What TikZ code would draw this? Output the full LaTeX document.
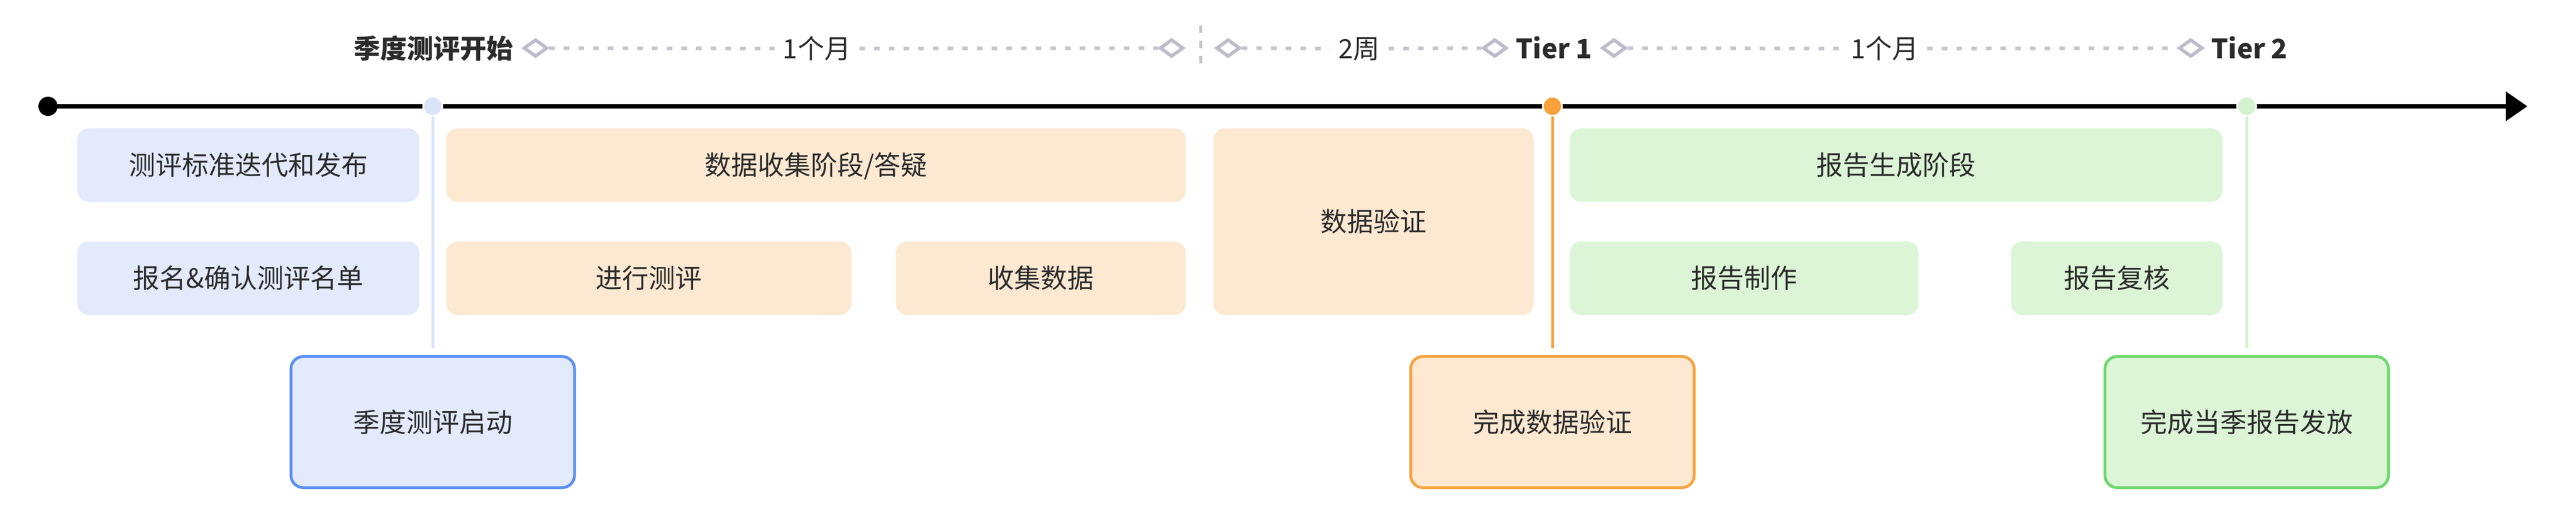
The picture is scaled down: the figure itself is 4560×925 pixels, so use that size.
\documentclass[tikz,border=0pt]{standalone}
\usepackage{fontspec}
\setmainfont{Noto Sans CJK SC}
\usetikzlibrary{shapes.geometric,arrows.meta}
\definecolor{txt}{HTML}{2B2B2B}
\definecolor{bfill}{HTML}{E2EAFC}
\definecolor{ofill}{HTML}{FDE9D2}
\definecolor{gfill}{HTML}{DBF5D6}
\definecolor{bline}{HTML}{5B8DF5}
\definecolor{oline}{HTML}{F7A33F}
\definecolor{gline}{HTML}{6DD76B}
\definecolor{bmark}{HTML}{D9E4FA}
\definecolor{omark}{HTML}{F9A13A}
\definecolor{gmark}{HTML}{D3F2CD}
\definecolor{dgray}{HTML}{C6C6CE}
\definecolor{dmgray}{HTML}{BDBDCA}
\begin{document}
\begin{tikzpicture}[x=1pt,y=-1pt,
  lbl/.style={font=\fontsize{47}{56}\selectfont, text=txt, text height=41pt, text depth=6pt},
  phase/.style={lbl, rectangle, rounded corners=20pt, inner sep=0pt, outer sep=0pt},
  bphase/.style={phase, fill=bfill},
  ophase/.style={phase, fill=ofill},
  gphase/.style={phase, fill=gfill},
  mile/.style={phase, line width=5pt, rounded corners=22pt, minimum width=502pt, minimum height=232pt},
  marker/.style={circle, inner sep=0pt, minimum size=34pt, draw=white, line width=3pt},
  toplbl/.style={lbl, inner xsep=15pt, inner ysep=0pt},
  boldlbl/.style={toplbl, font=\fontsize{47}{56}\selectfont\bfseries},
  dia/.style={diamond, draw=dmgray, fill=white, line width=6pt, inner sep=0pt, minimum width=42pt, minimum height=31pt},
  dashln/.style={draw=dgray, line width=6.5pt, dash pattern=on 10pt off 16pt},
  conn/.style={line width=5pt, shorten >=15pt}
]
\useasboundingbox (0,0) rectangle (4560,925);

% timeline
\coordinate (tend) at (4474,188);
\node[circle, fill=black, inner sep=0pt, minimum size=34pt] (tstart) at (85,188) {};
\draw[line width=8pt, -{Triangle[length=38pt,width=50pt]}] (tstart.center) -- (tend);

% phase boxes
\node[bphase, minimum width=605pt, minimum height=130pt] (b1) at (439.5,292) {测评标准迭代和发布};
\node[bphase, minimum width=605pt, minimum height=130pt] (b2) at (439.5,492) {报名\&确认测评名单};
\node[ophase, minimum width=1309pt, minimum height=130pt] (o1) at (1444.5,292) {数据收集阶段/答疑};
\node[ophase, minimum width=717pt, minimum height=130pt] (o2) at (1148.5,492) {进行测评};
\node[ophase, minimum width=513pt, minimum height=130pt] (o3) at (1842.5,492) {收集数据};
\node[ophase, minimum width=567pt, minimum height=330pt] (o4) at (2431.5,392) {数据验证};
\node[gphase, minimum width=1155pt, minimum height=130pt] (g1) at (3356.5,292) {报告生成阶段};
\node[gphase, minimum width=617pt, minimum height=130pt] (g2) at (3087.5,492) {报告制作};
\node[gphase, minimum width=374pt, minimum height=130pt] (g3) at (3747,492) {报告复核};

% milestones
\node[mile, draw=bline, fill=bfill] (m1) at (766,746.5) {季度测评启动};
\node[mile, draw=oline, fill=ofill] (m2) at (2748,746.5) {完成数据验证};
\node[mile, draw=gline, fill=gfill] (m3) at (3977,746.5) {完成当季报告发放};

% markers and connectors
\node[marker, fill=bmark] (k1) at (766,188) {};
\node[marker, fill=omark] (k2) at (2748,188) {};
\node[marker, fill=gmark] (k3) at (3977,188) {};
\draw[conn, draw=bmark] (k1) -- (m1);
\draw[conn, draw=omark] (k2) -- (m2);
\draw[conn, draw=gmark] (k3) -- (m3);

% top scale
\node[boldlbl] (t0) at (767,86) {季度测评开始};
\node[toplbl] (t1) at (1446,86) {1个月};
\node[toplbl] (t2) at (2406,86) {2周};
\node[boldlbl] (t3) at (2751,86) {Tier 1};
\node[toplbl] (t4) at (3336,86) {1个月};
\node[boldlbl] (t5) at (3982,86) {Tier 2};

\node[dia] (d1) at (948,85) {};
\node[dia] (d2) at (2074,85) {};
\node[dia] (d3) at (2174,85) {};
\node[dia] (d4) at (2646,85) {};
\node[dia] (d5) at (2857,85) {};
\node[dia] (d6) at (3878,85) {};

\coordinate (s1) at (2125,45);
\coordinate (s2) at (2125,124);
\draw[dashln, line width=5pt, dash pattern=on 13pt off 14pt] (s1) -- (s2);

\draw[dashln] (d1.east) -- (t1.west);
\draw[dashln] (t1.east) -- (d2.west);
\draw[dashln] (d3.east) -- (t2.west);
\draw[dashln] (t2.east) -- (d4.west);
\draw[dashln] (d5.east) -- (t4.west);
\draw[dashln] (t4.east) -- (d6.west);
\end{tikzpicture}
\end{document}
